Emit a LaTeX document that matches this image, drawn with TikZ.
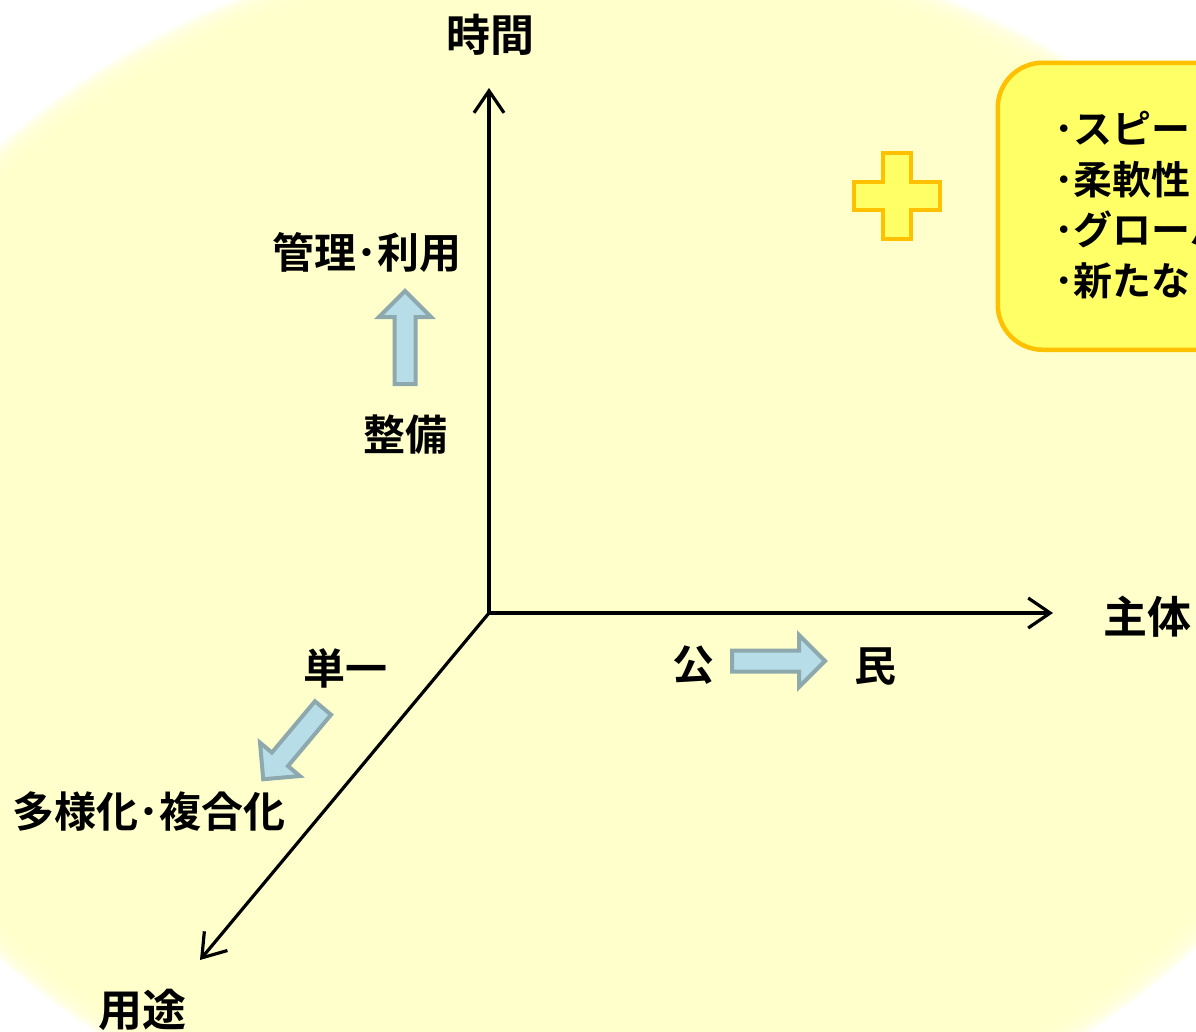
\documentclass[tikz,border=0pt]{standalone}
\usepackage{fontspec}
\newfontfamily\jp{Noto Sans CJK JP Bold}
\usetikzlibrary{arrows.meta}
\definecolor{bgY}{HTML}{FFFFCC}
\definecolor{boxY}{HTML}{FFFF66}
\definecolor{boxO}{HTML}{FFC000}
\definecolor{arrF}{HTML}{B7DEE8}
\definecolor{arrD}{HTML}{8EA9AD}
\tikzset{
  axisline/.style={line width=3.2pt, -{Straight Barb[length=22pt,width=30pt]}},
  lbl/.style={font=\jp\fontsize{42}{42}\selectfont, inner sep=0pt},
  axlbl/.style={font=\jp\fontsize{44}{44}\selectfont, inner sep=0pt},
  blk/.style={fill=arrF, draw=arrD, line width=4pt, line join=miter},
  ylw/.style={fill=boxY, draw=boxO, line width=4.5pt},
  blockarrow/.pic={\draw[blk] (0,-10.5) -- (67,-10.5) -- (67,-26) -- (93,0) -- (67,26) -- (67,10.5) -- (0,10.5) -- cycle;}
}
\begin{document}
\begin{tikzpicture}[x=1pt,y=-1pt]
\useasboundingbox (0,0) rectangle (1196,1031);
\clip (0,0) rectangle (1196,1031);
\fill[white] (0,0) rectangle (1196,1031);
% soft background ellipse
\foreach \k in {0,...,14}{
  \fill[bgY, opacity=0.2] (592,552) ellipse [x radius={785pt-2pt*\k}, y radius={620pt-2pt*\k}];
}
\fill[bgY] (592,552) ellipse [x radius=755pt, y radius=590pt];

% axes
\coordinate (O) at (489,613);
\coordinate (T) at (489,88);
\coordinate (R) at (1053,613);
\coordinate (L) at (200,960);
\draw[axisline] (O) -- (T);
\draw[axisline] (O) -- (R);
\draw[axisline] (O) -- (L);

\node[axlbl] (jikan) at (490,35) {時間};
\node[axlbl] (shutai) at (1147,617) {主体};
\node[axlbl] (youto) at (142,1010) {用途};

% labels
\node[lbl] (kanri) at (367,252) {管理･利用};
\node[lbl] (seibi) at (405,435) {整備};
\node[lbl] (kou) at (693,665) {公};
\node[lbl] (min) at (875,667) {民};
\node[lbl] (tan) at (345,668) {単一};
\node[lbl] (tayou) at (149,812) {多様化･複合化};

% block arrows
\pic[rotate=90] at (405,384) {blockarrow};
\pic at (732,661) {blockarrow};
\pic[rotate=230] at (323,708) {blockarrow};

% plus sign
\draw[ylw] (883,153) -- (911,153) -- (911,182) -- (940,182) -- (940,210) -- (911,210)
  -- (911,239) -- (883,239) -- (883,210) -- (854,210) -- (854,182) -- (883,182) -- cycle;

% rounded box
\node[ylw, rounded corners=45pt, anchor=north west, minimum width=330pt, minimum height=287pt, inner sep=0pt] (box) at (995.5,60.5) {};
\node[anchor=west, align=left, font=\jp\fontsize{39}{50.5}\selectfont, inner sep=0pt] (boxtext) at (1054,205)
  {･スピード\\･柔軟性\\･グローバル\\･新たな};
\end{tikzpicture}
\end{document}
